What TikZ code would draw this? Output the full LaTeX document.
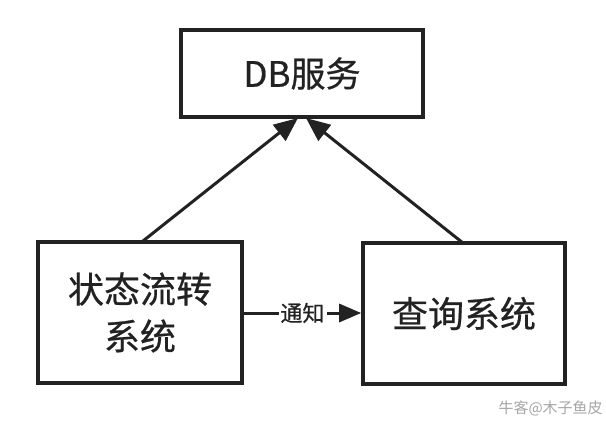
\documentclass[tikz,border=0pt]{standalone}
\usepackage{fontspec}
\setmainfont{Noto Sans CJK SC}[FakeBold=0.6]
\newfontfamily\wmfont{Noto Sans CJK SC}
\usetikzlibrary{arrows.meta}
\definecolor{ink}{HTML}{222222}
\begin{document}
\begin{tikzpicture}[x=1pt,y=-1pt,
  box/.style={draw=ink,line width=3.6pt,fill=white,text=ink,align=center,inner sep=0pt},
  conn/.style={draw=ink,line width=3pt,-{Triangle[length=24pt,width=20pt]}},
  lbl/.style={text=ink,fill=white,inner sep=2pt,font=\fontsize{22}{24}\selectfont}]
\useasboundingbox (0,0) rectangle (606,428);
\fill[white] (0,0) rectangle (606,428);
\node[box,minimum width=242pt,minimum height=87pt,font=\fontsize{35}{38}\selectfont] (db) at (302,73.5) {DB服务};
\node[box,minimum width=204pt,minimum height=141pt,font=\fontsize{36}{47}\selectfont] (state) at (140,312.5) {状态流转\\系统};
\node[box,minimum width=202pt,minimum height=141pt,font=\fontsize{36}{40}\selectfont] (query) at (464,313.5) {查询系统};
\coordinate (s1) at (143,241);
\coordinate (q1) at (463,243);
\coordinate (d1) at (298,118);
\coordinate (d2) at (306,118);
\draw[conn] (s1) -- (d1);
\draw[conn] (q1) -- (d2);
\draw[draw=ink,line width=3pt,-{Triangle[length=22pt,width=18pt]}] (state.east |- 0,313) -- node[lbl,pos=0.5] {通知} (query.west |- 0,313);
\node[text=gray!70,font=\wmfont\fontsize{15}{18}\selectfont,anchor=west] (wm) at (495,408) {牛客@木子鱼皮};
\end{tikzpicture}
\end{document}
